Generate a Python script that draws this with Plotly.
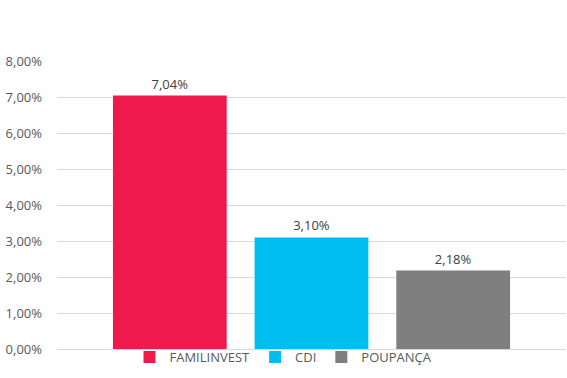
import plotly.graph_objects as go

series = ["FAMILINVEST", "CDI", "POUPANÇA"]
values = [0.0704, 0.0310, 0.0218]
colors = ["#EF1A4B", "#00BFF0", "#7F7F7F"]
category = [""]

fig = go.Figure()
for name, v, c in zip(series, values, colors):
    fig.add_trace(go.Bar(
        x=category, y=[v], name=name, marker=dict(color=c, line=dict(width=0)),
        texttemplate="%{y:.2%}", textposition="outside", cliponaxis=False,
        textfont=dict(size=13, color="#404040"),
    ))

fig.update_layout(
    width=567, height=378,
    margin=dict(l=57, r=1, t=61, b=29, autoexpand=False),
    paper_bgcolor="white", plot_bgcolor="white",
    separators=",.",
    barmode="group", bargap=0.165, bargroupgap=0.197,
    font=dict(family="Open Sans, sans-serif", size=13, color="#595959"),
    showlegend=True,
    legend=dict(orientation="h", xref="container", yref="container",
                x=0.5, xanchor="center", y=0.095, yanchor="top",
                font=dict(size=13, color="#595959"), bgcolor="rgba(0,0,0,0)",
                itemwidth=30, tracegroupgap=0),
    yaxis=dict(range=[0, 0.08], dtick=0.01, tickformat=".2%",
               gridcolor="#D9D9D9", gridwidth=1, zeroline=False,
               showline=False, ticks="", ticklabelstandoff=14,
               tickfont=dict(size=13, color="#595959")),
    xaxis=dict(showticklabels=False, showline=True, linecolor="#D9D9D9",
               linewidth=1, ticks="", showgrid=False),
)

fig.write_html("out.html")
